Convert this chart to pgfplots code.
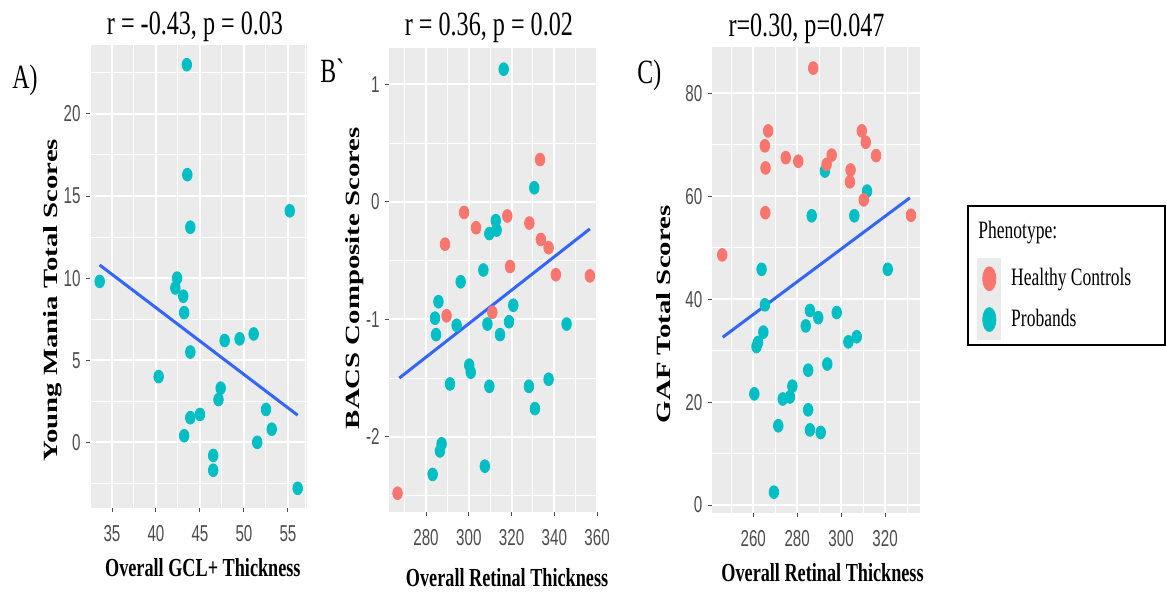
\documentclass[border=0pt]{standalone}
\usepackage{fontspec}
\setmainfont{Liberation Serif}
\newfontfamily\arialf{Liberation Sans}
\usepackage{graphicx}
\usepackage{pgfplots}
\pgfplotsset{compat=1.18}

\definecolor{ggred}{HTML}{F8766D}
\definecolor{ggteal}{HTML}{00BFC4}
\definecolor{ggblue}{HTML}{3366FF}
\definecolor{ggpanel}{HTML}{EBEBEB}
\definecolor{ggtick}{HTML}{4D4D4D}

% the reference is squeezed horizontally, so the text is too
\newcommand{\tl}[1]{\scalebox{0.66}[1]{#1}}
\newcommand{\xl}[1]{\scalebox{0.7}[1]{#1}}
\newcommand{\yl}[1]{\scalebox{1}[0.7]{#1}}
\newcommand{\ttl}[1]{\scalebox{0.71}[1]{#1}}

\pgfplotsset{
 ggaxis/.style={
   scale only axis, anchor=south west, clip=false,
   axis background/.style={fill=ggpanel},
   axis line style={draw=none},
   grid=both,
   major grid style={white, line width=1pt},
   minor grid style={white, line width=0.5pt},
   tick align=outside, tick pos=left,
   major tick length=2pt, minor tick length=0pt,
   tick style={ggtick, line width=0.5pt},
   /pgf/number format/assume math mode=true,
   xticklabel={\tl{\pgfmathprintnumber{\tick}}},
   yticklabel={\tl{\pgfmathprintnumber{\tick}}},
   tick label style={font=\arialf\fontsize{11.5}{13}\selectfont, text=ggtick},
   xticklabel style={anchor=north, inner sep=0pt, yshift=-6.5pt},
   yticklabel style={anchor=east, inner sep=0pt, xshift=-2.5pt},
   xlabel style={font=\bfseries\fontsize{13}{15}\selectfont, anchor=center},
   ylabel style={font=\bfseries\fontsize{14.4}{16}\selectfont, anchor=center, rotate=0},
   every axis title/.style={font=\fontsize{17}{19}\selectfont, anchor=base, inner sep=0pt},
 },
 pts/.style={color=#1, only marks, mark=*, mark size=3.2pt,
   mark options={fill=#1, xscale=0.75}},
 fit/.style={ggblue, line width=1.5pt, no marks, forget plot},
 ggkey/.style={legend image code/.code={
   \fill[ggpanel] (0pt,-10pt) rectangle (11.5pt,10pt);
   \draw[mark repeat=2,mark phase=2] plot coordinates {(0pt,0pt)(5.75pt,0pt)(11.5pt,0pt)};}},
}

\newcommand{\panel}[2]{\node[anchor=base west, font=\fontsize{17}{19}\selectfont, inner sep=0pt]
  at (axis description cs:#1) {\scalebox{0.7}[1]{#2}};}

\begin{document}
\begin{tikzpicture}
\path[use as bounding box] (0,0) rectangle (583pt,-296pt);

% ---- A
\begin{axis}[ggaxis, at={(45pt,-254pt)}, width=108.5pt, height=231.5pt,
 xmin=32.5, xmax=57.16, ymin=-4.0, ymax=24.2,
 xtick={35,40,...,55}, ytick={0,5,...,20},
 minor xtick={32.5,37.5,42.5,47.5,52.5,57},
 minor ytick={-2.5,2.5,7.5,12.5,17.5,22.5},
 title={\ttl{r = -0.43, p = 0.03}},
 title style={at={(axis description cs:0.484,1.0216)}},
 xlabel={\xl{Overall GCL+ Thickness}},
 xlabel style={at={(axis description cs:0.52,-0.1296)}},
 ylabel={\yl{Young Mania Total Scores}},
 ylabel style={at={(axis description cs:-0.173,0.449)}},
]
\addplot[pts=ggteal] coordinates {
 (43.5,23.0) (43.56,16.3) (43.9,13.1) (55.2,14.1) (33.6,9.8) (42.4,10.0)
 (42.2,9.4) (43.1,8.9) (43.2,7.9) (43.9,5.5) (40.3,4.0) (47.8,6.2)
 (49.5,6.3) (51.1,6.6) (47.35,3.3) (47.1,2.6) (43.9,1.5) (45.0,1.7)
 (43.2,0.4) (46.5,-0.8) (46.5,-1.7) (52.5,2.0) (53.15,0.8) (51.5,0.0)
 (56.1,-2.8)};
\addplot[fit] coordinates {(33.6,10.8) (56.1,1.65)};
\panel{-0.359,0.907}{A)}
\end{axis}

% ---- B
\begin{axis}[ggaxis, at={(194.5pt,-256pt)}, width=104.5pt, height=232pt,
 xmin=262.7, xmax=360.4, ymin=-2.64, ymax=1.31,
 xtick={280,300,...,360}, ytick={-2,-1,0,1},
 minor xtick={270,290,310,330,350},
 minor ytick={-2.5,-1.5,-0.5,0.5},
 title={\ttl{r = 0.36, p = 0.02}},
 title style={at={(axis description cs:0.478,1.028)}},
 xlabel={\xl{Overall Retinal Thickness}},
 xlabel style={at={(axis description cs:0.565,-0.1422)}},
 ylabel={\yl{BACS Composite Scores}},
 ylabel style={at={(axis description cs:-0.165,0.504)}},
]
\addplot[pts=ggred] coordinates {
 (333.3,0.36) (297.8,-0.09) (318.0,-0.12) (328.3,-0.18) (303.4,-0.22)
 (288.9,-0.36) (333.7,-0.32) (337.3,-0.39) (319.3,-0.55) (340.7,-0.62)
 (356.6,-0.63) (289.6,-0.97) (311.0,-0.94) (266.7,-2.48)};
\addplot[pts=ggteal] coordinates {
 (316.3,1.13) (330.6,0.12) (312.6,-0.16) (313.0,-0.24) (309.6,-0.27)
 (306.8,-0.58) (296.2,-0.68) (285.8,-0.85) (284.2,-0.99) (284.7,-1.13)
 (294.3,-1.05) (308.7,-1.04) (320.8,-0.88) (318.8,-1.02) (314.6,-1.13)
 (345.7,-1.04) (300.2,-1.39) (300.9,-1.45) (291.2,-1.55) (309.6,-1.57)
 (328.1,-1.57) (337.3,-1.51) (330.9,-1.76) (287.3,-2.06) (286.5,-2.12)
 (283.1,-2.32) (307.5,-2.25)};
\addplot[fit] coordinates {(267.5,-1.50) (356.6,-0.23)};
\panel{-0.330,0.9267}{B\textasciigrave}
\end{axis}

% ---- C
\begin{axis}[ggaxis, at={(355.85pt,-256.5pt)}, width=104.15pt, height=233.15pt,
 xmin=241.1, xmax=335.9, ymin=-1.55, ymax=89.06,
 xtick={260,280,...,320}, ytick={0,20,...,80},
 minor xtick={250,270,290,310,330},
 minor ytick={10,30,50,70},
 title={\ttl{r=0.30, p=0.047}},
 title style={at={(axis description cs:0.455,1.0214)}},
 xlabel={\xl{Overall Retinal Thickness}},
 xlabel style={at={(axis description cs:0.532,-0.1287)}},
 ylabel={\yl{GAF Total Scores}},
 ylabel style={at={(axis description cs:-0.229,0.426)}},
 legend style={at={(axis description cs:1.2737,0.5469)}, anchor=north west,
   draw=none, fill=none, inner sep=0pt,
   row sep=0pt, column sep=5pt, font=\fontsize{12.5}{14}\selectfont,
   cells={anchor=west}, nodes={inner sep=0pt}},
]
\addplot[pts=ggteal, forget plot] coordinates {
 (292.6,64.9) (311.8,61.0) (286.6,56.2) (306.0,56.2) (263.8,45.8)
 (321.2,45.8) (265.3,38.9) (285.8,37.8) (289.6,36.4) (283.9,34.8)
 (298.0,37.4) (264.6,33.6) (261.5,30.8) (262.2,31.6) (303.3,31.7)
 (307.1,32.7) (293.7,27.4) (285.0,26.2) (277.8,23.1) (273.4,20.6)
 (276.7,21.0) (260.5,21.6) (285.0,18.5) (271.4,15.4) (285.8,14.6)
 (290.7,14.1) (269.4,2.5)};
\addplot[pts=ggred, forget plot] coordinates {
 (287.3,84.9) (266.8,72.7) (265.3,69.8) (265.6,65.5) (274.8,67.5)
 (280.5,66.8) (293.4,66.2) (295.7,68.0) (304.3,65.1) (304.0,62.8)
 (309.4,72.7) (311.2,70.5) (315.9,67.9) (310.3,59.3) (265.5,56.8)
 (331.8,56.3) (245.9,48.6)};
\addplot[fit] coordinates {(246.1,32.6) (331.3,59.7)};
\panel{-0.3586,0.922}{C)}
% legend frame and its title
\draw[line width=0.9pt] (axis description cs:1.2305,0.6584) rectangle (axis description cs:2.176,0.3603);
\node[anchor=base west, inner sep=0pt, font=\fontsize{12.5}{14}\selectfont]
  at (axis description cs:1.2785,0.5897) {\xl{Phenotype:}};
\addlegendimage{pts=ggred, mark size=6pt, mark options={xscale=0.55}, ggkey}
\addlegendentry{\xl{Healthy Controls}}
\addlegendimage{pts=ggteal, mark size=6pt, mark options={xscale=0.55}, ggkey}
\addlegendentry{\xl{Probands}}
\end{axis}
\end{tikzpicture}
\end{document}
